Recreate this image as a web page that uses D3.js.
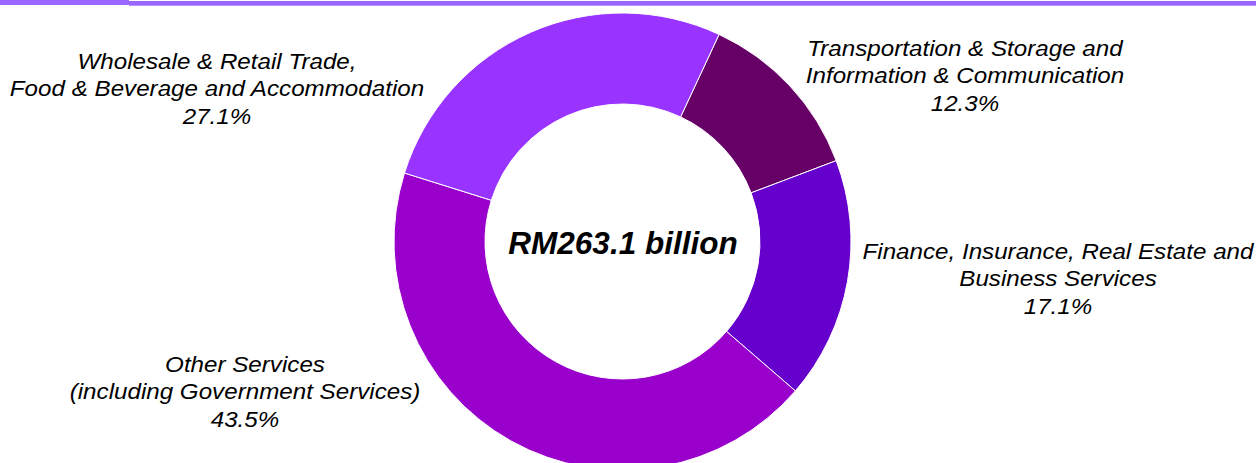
<!DOCTYPE html>
<html>
<head>
<meta charset="utf-8">
<script src="https://cdn.jsdelivr.net/npm/d3@7"></script>
<style>
  html, body { margin: 0; padding: 0; background: #fff; }
  svg { display: block; }
  .slice-label { font-family: "Liberation Sans", Arial, sans-serif; font-style: italic; font-size: 22.5px; fill: #000; }
  .total-label { font-family: "Liberation Sans", Arial, sans-serif; font-style: italic; font-weight: bold; font-size: 31.5px; fill: #000; }
</style>
</head>
<body>
<svg id="chart" width="1256" height="463"></svg>
<script>
// data, in drawing order (clockwise from the slice just right of 12 o'clock)
const categories = [
  ["Transportation & Storage and", "Information & Communication"],
  ["Finance, Insurance, Real Estate and", "Business Services"],
  ["Other Services", "(including Government Services)"],
  ["Wholesale & Retail Trade,", "Food & Beverage and Accommodation"],
];
const shares = [12.3, 17.1, 43.5, 27.1];
const sliceColors = ["#660066", "#6600cc", "#9900cc", "#9933ff"];
const totalText = "RM263.1 billion";

// layout
const width = 1256;
const height = 463;
const cx = 622.5;
const cy = 241.5;
const outerR = 228.5;
const innerR = 137.5;
const lineGap = 27.5;
const labelStretch = 1.075; // source labels are set a bit wider than Liberation Sans
// where each label block sits (centre x, first baseline y)
const labelSpots = [
  { x: 965, y: 56 },
  { x: 1058, y: 259 },
  { x: 245, y: 372 },
  { x: 217, y: 69 },
];

const svg = d3.select("#chart");

// top rule
svg.append("rect").attr("x", 0).attr("y", 0).attr("width", 129).attr("height", 5).attr("fill", "#9966ff");
svg.append("rect").attr("x", 129).attr("y", 1).attr("width", width - 129).attr("height", 4.7).attr("fill", "#9966ff");

const slices = shares.map((v, i) => ({ value: v, label: categories[i], color: sliceColors[i] }));

const pie = d3
  .pie()
  .sort(null)
  .value((d) => d.value)
  .startAngle((25 * Math.PI) / 180)
  .endAngle((25 * Math.PI) / 180 + 2 * Math.PI);

const arc = d3.arc().innerRadius(innerR).outerRadius(outerR);

const donut = svg.append("g").attr("transform", `translate(${cx},${cy})`);

donut
  .selectAll("path")
  .data(pie(slices))
  .join("path")
  .attr("d", arc)
  .attr("fill", (d) => d.data.color)
  .attr("stroke", "#fff")
  .attr("stroke-width", 1);

donut
  .append("text")
  .attr("class", "total-label")
  .attr("x", 0.5)
  .attr("y", 12.5)
  .attr("text-anchor", "middle")
  .text(totalText);

const labels = svg
  .append("g")
  .selectAll("text")
  .data(slices)
  .join("text")
  .attr("class", "slice-label")
  .attr("text-anchor", "middle")
  .attr("transform", (d, i) => `translate(${labelSpots[i].x},${labelSpots[i].y}) scale(${labelStretch},1)`);

labels.each(function (d) {
  const lines = [...d.label, `${d.value.toFixed(1)}%`];
  d3.select(this)
    .selectAll("tspan")
    .data(lines)
    .join("tspan")
    .attr("x", 0)
    .attr("y", (_, j) => j * lineGap)
    .text((t) => t);
});
</script>
</body>
</html>
